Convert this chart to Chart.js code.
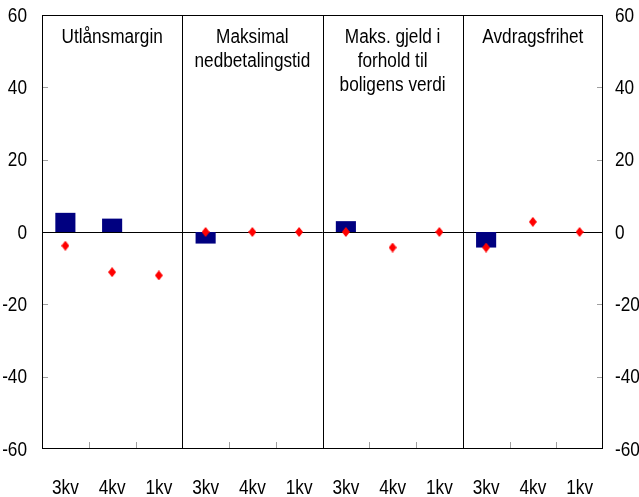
<!DOCTYPE html>
<html><head><meta charset="utf-8">
<script src="https://cdn.jsdelivr.net/npm/chart.js@4"></script>
<style>html,body{margin:0;padding:0;background:#fff}#wrap{width:639px;height:497px;position:relative}</style>
</head><body><div id="wrap"><canvas id="c"></canvas></div>
<script>
const categories = ['3kv','4kv','1kv','3kv','4kv','1kv','3kv','4kv','1kv','3kv','4kv','1kv'];
const groupTitles = [['Utlånsmargin'],['Maksimal','nedbetalingstid'],['Maks. gjeld i','forhold til','boligens verdi'],['Avdragsfrihet']];
const barValues = [5.3, 3.7, null, -3.2, null, null, 3.0, null, null, -4.3, null, null];
const pointValues = [-3.8, -11.1, -12, 0, 0, 0, 0, -4.3, 0, -4.3, 2.8, 0];
const yMin = -60, yMax = 60, yStep = 20;

const FONT = "'Liberation Sans', Arial, sans-serif";
const SQUEEZE = 0.86;

// diamond marker
const diamond = document.createElement('canvas');
diamond.width = 8; diamond.height = 10;
(function(){const g = diamond.getContext('2d'); g.fillStyle = '#ff0000'; g.beginPath(); g.moveTo(4,0); g.lineTo(8,5); g.lineTo(4,10); g.lineTo(0,5); g.closePath(); g.fill();})();

function narrowText(ctx, text, x, y, align) {
  ctx.save();
  ctx.translate(x, y);
  ctx.scale(SQUEEZE, 1);
  ctx.textAlign = align;
  ctx.fillText(text, 0, 0);
  ctx.restore();
}

const decor = {
  id: 'decor',
  beforeDatasetsDraw(chart) {
    const {ctx, chartArea: a, scales} = chart;
    const x = scales.x, y = scales.y;
    ctx.save();
    // inward ticks
    ctx.strokeStyle = '#a0a0a0'; ctx.lineWidth = 1;
    ctx.beginPath();
    for (let i = 1; i < categories.length; i++) {
      const px = Math.round((x.getPixelForValue(i - 1) + x.getPixelForValue(i)) / 2) + 0.5;
      ctx.moveTo(px, a.bottom); ctx.lineTo(px, a.bottom - 7);
    }
    for (let v = yMin + yStep; v < yMax; v += yStep) {
      const py = Math.round(y.getPixelForValue(v)) + 0.5;
      ctx.moveTo(a.left, py); ctx.lineTo(a.left + 6, py);
      ctx.moveTo(a.right, py); ctx.lineTo(a.right - 6, py);
    }
    ctx.stroke();
    // group dividers
    ctx.strokeStyle = '#000'; ctx.beginPath();
    for (let g = 1; g < groupTitles.length; g++) {
      const px = Math.round((x.getPixelForValue(g * 3 - 1) + x.getPixelForValue(g * 3)) / 2) + 0.5;
      ctx.moveTo(px, a.top); ctx.lineTo(px, a.bottom);
    }
    // zero line
    const zy = Math.round(y.getPixelForValue(0)) + 0.5;
    ctx.moveTo(a.left, zy); ctx.lineTo(a.right, zy);
    ctx.stroke();
    // frame
    ctx.strokeRect(Math.round(a.left) + 0.5, Math.round(a.top) + 0.5, Math.round(a.right - a.left) - 1, Math.round(a.bottom - a.top) - 1);
    // group titles
    ctx.fillStyle = '#000'; ctx.font = '20px ' + FONT; ctx.textBaseline = 'alphabetic';
    groupTitles.forEach((lines, g) => {
      const cx = (x.getPixelForValue(g * 3) + x.getPixelForValue(g * 3 + 2)) / 2;
      lines.forEach((t, k) => narrowText(ctx, t, cx, a.top + 28 + k * 24, 'center'));
    });
    // axis tick labels (from the scales' own ticks)
    x.ticks.forEach((t, i) => {
      narrowText(ctx, x.getLabelForValue(t.value), x.getPixelForTick(i), a.bottom + 45, 'center');
    });
    ctx.textBaseline = 'middle';
    y.ticks.forEach((t, i) => {
      narrowText(ctx, String(t.value), a.left - 15, y.getPixelForTick(i) + 1, 'right');
    });
    const y2 = scales.y2;
    y2.ticks.forEach((t, i) => {
      narrowText(ctx, String(t.value), a.right + 12, y2.getPixelForTick(i) + 1, 'left');
    });
    ctx.restore();
  }
};

new Chart(document.getElementById('c'), {
  type: 'bar',
  data: {
    labels: categories,
    datasets: [
      { type: 'line', data: pointValues, showLine: false, pointStyle: diamond, pointRadius: 5, pointHoverRadius: 5, borderWidth: 0, backgroundColor: '#ff0000', borderColor: '#ff0000', order: 0 },
      { type: 'bar', data: barValues, backgroundColor: '#000080', borderWidth: 0, barPercentage: 0.43, categoryPercentage: 1, order: 1 }
    ]
  },
  options: {
    responsive: true, maintainAspectRatio: false, animation: false, devicePixelRatio: 1,
    layout: { padding: { top: 15, left: 0, right: 0, bottom: 0 } },
    plugins: { legend: { display: false }, tooltip: { enabled: false } },
    scales: {
      x: {
        grid: { display: false, drawTicks: false }, border: { display: false },
        ticks: { display: false, autoSkip: false, maxRotation: 0 },
        afterFit(s) { s.height = 48; }
      },
      y: {
        position: 'left', min: yMin, max: yMax,
        grid: { display: false, drawTicks: false }, border: { display: false },
        ticks: { display: false, stepSize: yStep },
        afterFit(s) { s.width = 42; }
      },
      y2: {
        position: 'right', min: yMin, max: yMax,
        grid: { display: false, drawTicks: false }, border: { display: false },
        ticks: { display: false, stepSize: yStep },
        afterFit(s) { s.width = 36; }
      }
    }
  },
  plugins: [decor]
});
</script>
</body></html>
